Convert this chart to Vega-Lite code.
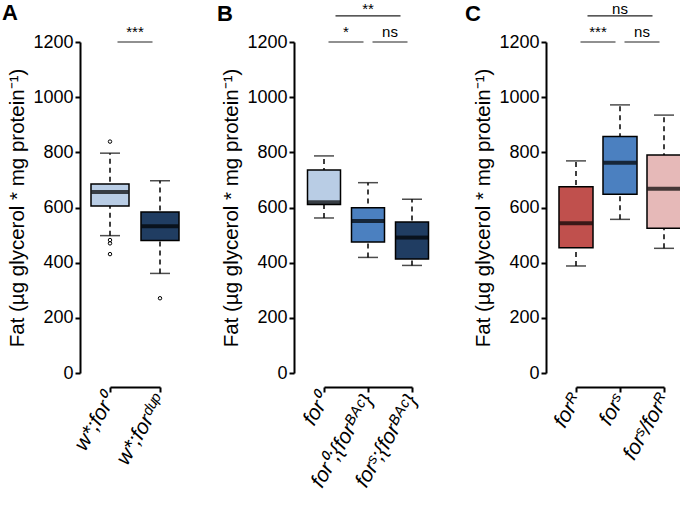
{
  "$schema": "https://vega.github.io/schema/vega-lite/v6.json",
  "background": "white",
  "padding": {"left": 2, "top": 1, "right": 0, "bottom": 0},
  "bounds": "flush",
  "spacing": 164,
  "config": {
    "font": "Liberation Sans",
    "view": {"stroke": null},
    "axis": {"domainColor": "black", "domainWidth": 2, "tickColor": "black", "tickWidth": 2, "tickSize": 5, "labelColor": "black", "labelFontSize": 18, "titleColor": "black", "titleFontSize": 20.5, "titleFontWeight": "normal", "grid": false},
    "title": {"fontSize": 22, "fontWeight": "bold", "color": "black", "anchor": "start", "frame": "group"}
  },
  "datasets": {
    "boxes": [
      {"panel": "A", "group": "w*;for⁰", "lower": 498, "q1": 605, "median": 656, "q3": 685, "upper": 797},
      {"panel": "A", "group": "w*;forᵈᵘᵖ", "lower": 361, "q1": 480, "median": 532, "q3": 584, "upper": 697},
      {"panel": "B", "group": "for⁰", "lower": 562, "q1": 611, "median": 619, "q3": 736, "upper": 787},
      {"panel": "B", "group": "for⁰;{forᴮᴬᶜ}", "lower": 419, "q1": 475, "median": 551, "q3": 599, "upper": 690},
      {"panel": "B", "group": "forˢ;{forᴮᴬᶜ}", "lower": 390, "q1": 413, "median": 491, "q3": 547, "upper": 630},
      {"panel": "C", "group": "forᴿ", "lower": 388, "q1": 454, "median": 543, "q3": 675, "upper": 769},
      {"panel": "C", "group": "forˢ", "lower": 557, "q1": 648, "median": 762, "q3": 857, "upper": 972},
      {"panel": "C", "group": "forˢ/forᴿ", "lower": 452, "q1": 525, "median": 668, "q3": 790, "upper": 935}
    ],
    "outliers": [
      {"panel": "A", "group": "w*;for⁰", "value": 839},
      {"panel": "A", "group": "w*;for⁰", "value": 482},
      {"panel": "A", "group": "w*;for⁰", "value": 470},
      {"panel": "A", "group": "w*;for⁰", "value": 431},
      {"panel": "A", "group": "w*;forᵈᵘᵖ", "value": 271}
    ],
    "sig": [
      {"panel": "A", "from": "w*;for⁰", "to": "w*;forᵈᵘᵖ", "label": "***", "level": 1, "y": 1200},
      {"panel": "B", "from": "for⁰", "to": "for⁰;{forᴮᴬᶜ}", "label": "*", "level": 1, "y": 1200},
      {"panel": "B", "from": "for⁰;{forᴮᴬᶜ}", "to": "forˢ;{forᴮᴬᶜ}", "label": "ns", "level": 1, "y": 1200},
      {"panel": "B", "from": "for⁰", "to": "forˢ;{forᴮᴬᶜ}", "label": "**", "level": 2, "y": 1295},
      {"panel": "C", "from": "forᴿ", "to": "forˢ", "label": "***", "level": 1, "y": 1200},
      {"panel": "C", "from": "forˢ", "to": "forˢ/forᴿ", "label": "ns", "level": 1, "y": 1200},
      {"panel": "C", "from": "forᴿ", "to": "forˢ/forᴿ", "label": "ns", "level": 2, "y": 1295}
    ]
  },
  "hconcat": [
    {
      "width": 50, "height": 331,
      "title": {"text": "A", "dx": -108, "dy": 4},
      "layer": [
        {"data": {"name": "boxes"}, "transform": [{"filter": "datum.panel === 'A'"}],
         "mark": {"type": "rule", "strokeDash": [5, 4], "strokeWidth": 1.5, "color": "black"},
         "encoding": {
           "x": {"field": "group", "type": "nominal", "scale": {"type": "point", "padding": 0, "domain": ["w*;for⁰", "w*;forᵈᵘᵖ"]}, "axis": {"title": null, "offset": 14, "labelAngle": -60, "labelAlign": "right", "labelBaseline": "middle", "labelFontSize": 21, "labelFontStyle": "italic", "labelPadding": 4, "labelOverlap": false}},
           "y": {"field": "lower", "type": "quantitative", "scale": {"domain": [0, 1200], "nice": false}, "axis": {"title": "Fat (µg glycerol * mg protein⁻¹)", "offset": 30, "values": [0, 200, 400, 600, 800, 1000, 1200], "format": "d", "labelPadding": 2, "titlePadding": 5}},
           "y2": {"field": "upper"}}},
        {"data": {"name": "boxes"}, "transform": [{"filter": "datum.panel === 'A'"}],
         "mark": {"type": "tick", "size": 20, "thickness": 1.5, "color": "black"},
         "encoding": {"x": {"field": "group", "type": "nominal"}, "y": {"field": "lower", "type": "quantitative"}}},
        {"data": {"name": "boxes"}, "transform": [{"filter": "datum.panel === 'A'"}],
         "mark": {"type": "tick", "size": 20, "thickness": 1.5, "color": "black"},
         "encoding": {"x": {"field": "group", "type": "nominal"}, "y": {"field": "upper", "type": "quantitative"}}},
        {"data": {"name": "boxes"}, "transform": [{"filter": "datum.panel === 'A'"}],
         "mark": {"type": "bar", "size": 38, "stroke": "black", "strokeWidth": 1.5},
         "encoding": {"x": {"field": "group", "type": "nominal"}, "y": {"field": "q1", "type": "quantitative"}, "y2": {"field": "q3"},
           "fill": {"field": "group", "type": "nominal", "legend": null, "scale": {"domain": ["w*;for⁰", "w*;forᵈᵘᵖ", "for⁰", "for⁰;{forᴮᴬᶜ}", "forˢ;{forᴮᴬᶜ}", "forᴿ", "forˢ", "forˢ/forᴿ"], "range": ["#b9cde5", "#203d62", "#b9cde5", "#4b80c0", "#203d62", "#c0504d", "#4b80c0", "#e6b9b8"]}}}},
        {"data": {"name": "boxes"}, "transform": [{"filter": "datum.panel === 'A'"}],
         "mark": {"type": "tick", "size": 37, "thickness": 4, "color": "black"},
         "encoding": {"x": {"field": "group", "type": "nominal"}, "y": {"field": "median", "type": "quantitative"}}},
        {"data": {"name": "outliers"}, "transform": [{"filter": "datum.panel === 'A'"}],
         "mark": {"type": "point", "shape": "circle", "filled": false, "size": 12, "strokeWidth": 1, "color": "black", "opacity": 1},
         "encoding": {"x": {"field": "group", "type": "nominal"}, "y": {"field": "value", "type": "quantitative"}}},
        {"data": {"name": "sig"}, "transform": [{"filter": "datum.panel === 'A' && datum.level === 1"}],
         "mark": {"type": "rule", "strokeWidth": 1.2, "color": "#222", "xOffset": 7.5, "x2Offset": -7.5},
         "encoding": {"x": {"field": "from", "type": "nominal"}, "x2": {"field": "to"}, "y": {"field": "y", "type": "quantitative"}}},
        {"data": {"name": "sig"}, "transform": [{"filter": "datum.panel === 'A' && datum.level === 1"}],
         "mark": {"type": "text", "fontSize": 15, "color": "black", "dx": 25, "dy": -5, "baseline": "alphabetic"},
         "encoding": {"x": {"field": "from", "type": "nominal"}, "y": {"field": "y", "type": "quantitative"}, "text": {"field": "label"}}}
      ]
    },
    {
      "width": 88, "height": 331,
      "title": {"text": "B", "dx": -107, "dy": 28},
      "layer": [
        {"data": {"name": "boxes"}, "transform": [{"filter": "datum.panel === 'B'"}],
         "mark": {"type": "rule", "strokeDash": [5, 4], "strokeWidth": 1.5, "color": "black"},
         "encoding": {
           "x": {"field": "group", "type": "nominal", "scale": {"type": "point", "padding": 0, "domain": ["for⁰", "for⁰;{forᴮᴬᶜ}", "forˢ;{forᴮᴬᶜ}"]}, "axis": {"title": null, "offset": 14, "labelAngle": -60, "labelAlign": "right", "labelBaseline": "middle", "labelFontSize": 21, "labelFontStyle": "italic", "labelPadding": 4, "labelOverlap": false}},
           "y": {"field": "lower", "type": "quantitative", "scale": {"domain": [0, 1200], "nice": false}, "axis": {"title": "Fat (µg glycerol * mg protein⁻¹)", "offset": 30, "values": [0, 200, 400, 600, 800, 1000, 1200], "format": "d", "labelPadding": 2, "titlePadding": 5}},
           "y2": {"field": "upper"}}},
        {"data": {"name": "boxes"}, "transform": [{"filter": "datum.panel === 'B'"}],
         "mark": {"type": "tick", "size": 20, "thickness": 1.5, "color": "black"},
         "encoding": {"x": {"field": "group", "type": "nominal"}, "y": {"field": "lower", "type": "quantitative"}}},
        {"data": {"name": "boxes"}, "transform": [{"filter": "datum.panel === 'B'"}],
         "mark": {"type": "tick", "size": 20, "thickness": 1.5, "color": "black"},
         "encoding": {"x": {"field": "group", "type": "nominal"}, "y": {"field": "upper", "type": "quantitative"}}},
        {"data": {"name": "boxes"}, "transform": [{"filter": "datum.panel === 'B'"}],
         "mark": {"type": "bar", "size": 33, "stroke": "black", "strokeWidth": 1.5},
         "encoding": {"x": {"field": "group", "type": "nominal"}, "y": {"field": "q1", "type": "quantitative"}, "y2": {"field": "q3"},
           "fill": {"field": "group", "type": "nominal", "legend": null, "scale": {"domain": ["w*;for⁰", "w*;forᵈᵘᵖ", "for⁰", "for⁰;{forᴮᴬᶜ}", "forˢ;{forᴮᴬᶜ}", "forᴿ", "forˢ", "forˢ/forᴿ"], "range": ["#b9cde5", "#203d62", "#b9cde5", "#4b80c0", "#203d62", "#c0504d", "#4b80c0", "#e6b9b8"]}}}},
        {"data": {"name": "boxes"}, "transform": [{"filter": "datum.panel === 'B'"}],
         "mark": {"type": "tick", "size": 32, "thickness": 4, "color": "black"},
         "encoding": {"x": {"field": "group", "type": "nominal"}, "y": {"field": "median", "type": "quantitative"}}},
        {"data": {"name": "sig"}, "transform": [{"filter": "datum.panel === 'B' && datum.level === 1"}],
         "mark": {"type": "rule", "strokeWidth": 1.2, "color": "#222", "xOffset": 4.5, "x2Offset": -4.5},
         "encoding": {"x": {"field": "from", "type": "nominal"}, "x2": {"field": "to"}, "y": {"field": "y", "type": "quantitative"}}},
        {"data": {"name": "sig"}, "transform": [{"filter": "datum.panel === 'B' && datum.level === 1"}],
         "mark": {"type": "text", "fontSize": 15, "color": "black", "dx": 22, "dy": -5, "baseline": "alphabetic"},
         "encoding": {"x": {"field": "from", "type": "nominal"}, "y": {"field": "y", "type": "quantitative"}, "text": {"field": "label"}}},
        {"data": {"name": "sig"}, "transform": [{"filter": "datum.panel === 'B' && datum.level === 2"}],
         "mark": {"type": "rule", "strokeWidth": 1.2, "color": "#222", "xOffset": 11.5, "x2Offset": -11.5},
         "encoding": {"x": {"field": "from", "type": "nominal"}, "x2": {"field": "to"}, "y": {"field": "y", "type": "quantitative"}}},
        {"data": {"name": "sig"}, "transform": [{"filter": "datum.panel === 'B' && datum.level === 2"}],
         "mark": {"type": "text", "fontSize": 15, "color": "black", "dx": 44, "dy": -2, "baseline": "alphabetic"},
         "encoding": {"x": {"field": "from", "type": "nominal"}, "y": {"field": "y", "type": "quantitative"}, "text": {"field": "label"}}}
      ]
    },
    {
      "width": 88, "height": 331,
      "title": {"text": "C", "dx": -111, "dy": 28},
      "layer": [
        {"data": {"name": "boxes"}, "transform": [{"filter": "datum.panel === 'C'"}],
         "mark": {"type": "rule", "strokeDash": [5, 4], "strokeWidth": 1.5, "color": "black"},
         "encoding": {
           "x": {"field": "group", "type": "nominal", "scale": {"type": "point", "padding": 0, "domain": ["forᴿ", "forˢ", "forˢ/forᴿ"]}, "axis": {"title": null, "offset": 14, "labelAngle": -60, "labelAlign": "right", "labelBaseline": "middle", "labelFontSize": 21, "labelFontStyle": "italic", "labelPadding": 4, "labelOverlap": false}},
           "y": {"field": "lower", "type": "quantitative", "scale": {"domain": [0, 1200], "nice": false}, "axis": {"title": "Fat (µg glycerol * mg protein⁻¹)", "offset": 30, "values": [0, 200, 400, 600, 800, 1000, 1200], "format": "d", "labelPadding": 2, "titlePadding": 5}},
           "y2": {"field": "upper"}}},
        {"data": {"name": "boxes"}, "transform": [{"filter": "datum.panel === 'C'"}],
         "mark": {"type": "tick", "size": 20, "thickness": 1.5, "color": "black"},
         "encoding": {"x": {"field": "group", "type": "nominal"}, "y": {"field": "lower", "type": "quantitative"}}},
        {"data": {"name": "boxes"}, "transform": [{"filter": "datum.panel === 'C'"}],
         "mark": {"type": "tick", "size": 20, "thickness": 1.5, "color": "black"},
         "encoding": {"x": {"field": "group", "type": "nominal"}, "y": {"field": "upper", "type": "quantitative"}}},
        {"data": {"name": "boxes"}, "transform": [{"filter": "datum.panel === 'C'"}],
         "mark": {"type": "bar", "size": 34, "stroke": "black", "strokeWidth": 1.5},
         "encoding": {"x": {"field": "group", "type": "nominal"}, "y": {"field": "q1", "type": "quantitative"}, "y2": {"field": "q3"},
           "fill": {"field": "group", "type": "nominal", "legend": null, "scale": {"domain": ["w*;for⁰", "w*;forᵈᵘᵖ", "for⁰", "for⁰;{forᴮᴬᶜ}", "forˢ;{forᴮᴬᶜ}", "forᴿ", "forˢ", "forˢ/forᴿ"], "range": ["#b9cde5", "#203d62", "#b9cde5", "#4b80c0", "#203d62", "#c0504d", "#4b80c0", "#e6b9b8"]}}}},
        {"data": {"name": "boxes"}, "transform": [{"filter": "datum.panel === 'C'"}],
         "mark": {"type": "tick", "size": 33, "thickness": 4, "color": "black"},
         "encoding": {"x": {"field": "group", "type": "nominal"}, "y": {"field": "median", "type": "quantitative"}}},
        {"data": {"name": "sig"}, "transform": [{"filter": "datum.panel === 'C' && datum.level === 1"}],
         "mark": {"type": "rule", "strokeWidth": 1.2, "color": "#222", "xOffset": 4.5, "x2Offset": -4.5},
         "encoding": {"x": {"field": "from", "type": "nominal"}, "x2": {"field": "to"}, "y": {"field": "y", "type": "quantitative"}}},
        {"data": {"name": "sig"}, "transform": [{"filter": "datum.panel === 'C' && datum.level === 1"}],
         "mark": {"type": "text", "fontSize": 15, "color": "black", "dx": 22, "dy": -5, "baseline": "alphabetic"},
         "encoding": {"x": {"field": "from", "type": "nominal"}, "y": {"field": "y", "type": "quantitative"}, "text": {"field": "label"}}},
        {"data": {"name": "sig"}, "transform": [{"filter": "datum.panel === 'C' && datum.level === 2"}],
         "mark": {"type": "rule", "strokeWidth": 1.2, "color": "#222", "xOffset": 11.5, "x2Offset": -11.5},
         "encoding": {"x": {"field": "from", "type": "nominal"}, "x2": {"field": "to"}, "y": {"field": "y", "type": "quantitative"}}},
        {"data": {"name": "sig"}, "transform": [{"filter": "datum.panel === 'C' && datum.level === 2"}],
         "mark": {"type": "text", "fontSize": 15, "color": "black", "dx": 44, "dy": -2, "baseline": "alphabetic"},
         "encoding": {"x": {"field": "from", "type": "nominal"}, "y": {"field": "y", "type": "quantitative"}, "text": {"field": "label"}}}
      ]
    }
  ]
}
